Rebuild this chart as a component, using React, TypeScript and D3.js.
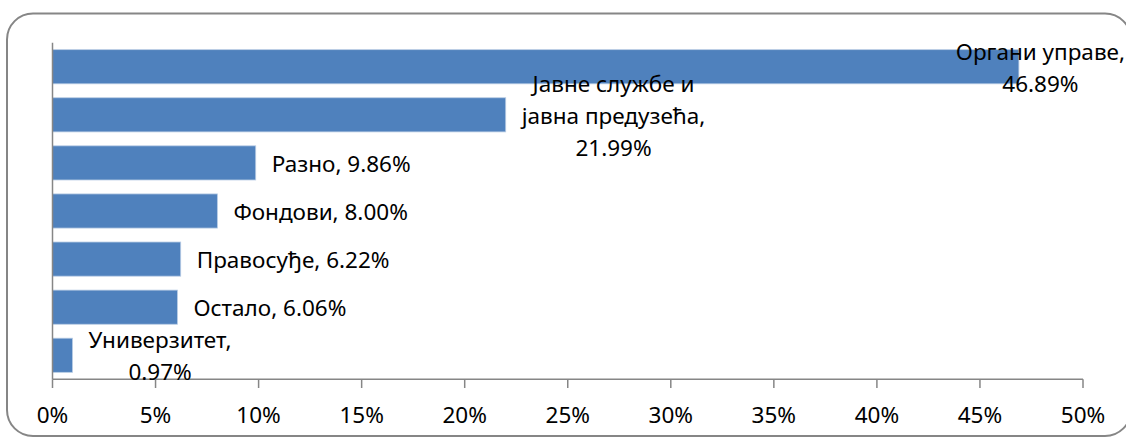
import React, { useEffect, useRef } from "react";
import * as d3 from "d3";

const categories: string[][] = [
  ["Органи управе,", "46.89%"],
  ["Јавне службе и", "јавна предузећа,", "21.99%"],
  ["Разно, 9.86%"],
  ["Фондови, 8.00%"],
  ["Правосуђе, 6.22%"],
  ["Остало, 6.06%"],
  ["Универзитет,", "0.97%"],
];
const names: string[] = ["Органи управе", "Јавне службе и јавна предузећа", "Разно", "Фондови", "Правосуђе", "Остало", "Универзитет"];
const values: number[] = [46.89, 21.99, 9.86, 8.0, 6.22, 6.06, 0.97];
const ticks: number[] = [0, 5, 10, 15, 20, 25, 30, 35, 40, 45, 50];

const W = 1126;
const H = 439;
const FONT = "'Noto Sans', sans-serif";
const FS = 22.5;

export default function App() {
  const ref = useRef<SVGSVGElement>(null);
  useEffect(() => {
    const svg = d3.select(ref.current);
    svg.selectAll("*").remove();

    svg.append("rect")
      .attr("x", 7).attr("y", 13.5).attr("width", 1124).attr("height", 422.5)
      .attr("rx", 26).attr("ry", 26)
      .attr("fill", "#fff").attr("stroke", "#868686").attr("stroke-width", 2);

    const x = d3.scaleLinear().domain([0, 50]).range([52.5, 1083]);
    const y = d3.scaleBand<string>().domain(names).range([42.7, 379.3]).paddingInner(0.29).paddingOuter(0.145);

    const g = svg.append("g");
    g.selectAll("rect.bar").data(values).enter().append("rect")
      .attr("class", "bar")
      .attr("x", x(0))
      .attr("y", (_, i) => y(names[i])!)
      .attr("width", (d) => x(d) - x(0))
      .attr("height", y.bandwidth())
      .attr("fill", "#4F81BD")
      .attr("stroke", "#b8cce4").attr("stroke-width", 0.8);

    // axes
    g.append("line").attr("x1", x(0)).attr("x2", x(0)).attr("y1", 42.7).attr("y2", 379.3)
      .attr("stroke", "#868686").attr("stroke-width", 1.5);
    g.append("line").attr("x1", x(0)).attr("x2", x(50)).attr("y1", 379.3).attr("y2", 379.3)
      .attr("stroke", "#868686").attr("stroke-width", 1.5);
    g.selectAll("line.tick").data(ticks).enter().append("line")
      .attr("x1", (d) => x(d)).attr("x2", (d) => x(d)).attr("y1", 379.3).attr("y2", 388)
      .attr("stroke", "#868686").attr("stroke-width", 1.5);
    g.selectAll("text.tick").data(ticks).enter().append("text")
      .attr("x", (d) => x(d)).attr("y", 414.5)
      .attr("text-anchor", "middle").attr("dominant-baseline", "central")
      .attr("font-family", FONT).attr("font-size", FS).attr("fill", "#000")
      .text((d) => d + "%");

    // labels
    const canvas = document.createElement("canvas");
    const ctx = canvas.getContext("2d")!;
    ctx.font = `${FS}px 'Noto Sans'`;
    const lineH = 32;
    const rightLimit = 1125;
    categories.forEach((lines, i) => {
      const end = x(values[i]);
      const cy = y(names[i])! + y.bandwidth() / 2;
      const w = Math.max(...lines.map((l) => ctx.measureText(l).width));
      let cx = end + 16 + w / 2;
      if (cx + w / 2 > rightLimit) cx = rightLimit - w / 2;
      const t = g.append("text")
        .attr("font-family", FONT).attr("font-size", FS).attr("fill", "#000")
        .attr("text-anchor", "middle").attr("dominant-baseline", "central");
      lines.forEach((l, k) => {
        t.append("tspan").attr("x", cx)
          .attr("y", cy + (k - (lines.length - 1) / 2) * lineH)
          .text(l);
      });
    });
  }, []);
  return (
    <svg ref={ref} width={W} height={H} style={{ position: "absolute", left: 0, top: 0, overflow: "hidden" }} />
  );
}
